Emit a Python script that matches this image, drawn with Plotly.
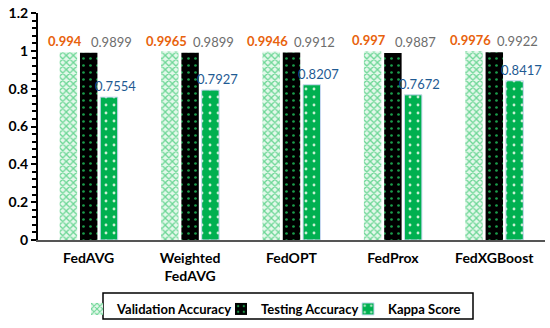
import plotly.graph_objects as go

categories = ["FedAVG", "Weighted<br>FedAVG", "FedOPT", "FedProx", "FedXGBoost"]
validation = [0.994, 0.9965, 0.9946, 0.997, 0.9976]
testing = [0.9899, 0.9899, 0.9912, 0.9887, 0.9922]
kappa = [0.7554, 0.7927, 0.8207, 0.7672, 0.8417]
y_ticks = [0, 0.2, 0.4, 0.6, 0.8, 1, 1.2]
y_tick_text = ["0", "0.2", "0.4", "0.6", "0.8", "1", "1.2"]

FONT = "Lato"
W, H = 550, 328
L, R, T, B = 38, 5, 13, 88
PW, PH = W - L - R, H - T - B


def px_x(px):
    return (px - L) / PW


def px_y(py):
    return (H - B - py) / PH


fig = go.Figure()
fig.add_trace(go.Bar(
    name="Validation Accuracy", x=categories, y=validation, legend="legend",
    marker=dict(color="white", line=dict(width=0),
                pattern=dict(shape="x", fgcolor="#6cd695", bgcolor="#e4f8eb",
                             size=5, solidity=0.45, fillmode="replace")),
))
fig.add_trace(go.Bar(
    name="Testing Accuracy", x=categories, y=testing, legend="legend2",
    marker=dict(color="black", line=dict(width=0),
                pattern=dict(shape=".", fgcolor="#1a9c4a", bgcolor="black",
                             size=7, solidity=0.12, fillmode="replace")),
))
fig.add_trace(go.Bar(
    name="Kappa Score", x=categories, y=kappa, legend="legend3",
    marker=dict(color="#00b050", line=dict(width=1, color="#c8d8f0"),
                pattern=dict(shape=".", fgcolor="#c8f0d4", bgcolor="#00b050",
                             size=8, solidity=0.1, fillmode="replace")),
))

annotations = []
label_specs = [
    (validation, "#e8620c", True),
    (testing, "#6d6d6d", False),
    (kappa, "#1f5b93", False),
]
shifts = [-3, 23, 6]
group_offsets = [-21, 0, 21]
for (vals, color, bold), sh, go_ in zip(label_specs, shifts, group_offsets):
    for c, v in zip(categories, vals):
        txt = "{:g}".format(v)
        if bold:
            txt = "<b>" + txt + "</b>"
        annotations.append(dict(
            x=c, y=v, xref="x", yref="y", text=txt, showarrow=False,
            xanchor="center", yanchor="bottom", xshift=go_ + sh, yshift=1,
            font=dict(family=FONT, size=13, color=color),
        ))

leg_common = dict(orientation="h", xanchor="left", yanchor="middle", y=px_y(309),
                  bgcolor="rgba(0,0,0,0)", borderwidth=0, itemwidth=30,
                  font=dict(family=FONT, size=13, color="black", weight="bold"))

fig.update_layout(
    width=W, height=H,
    margin=dict(l=L, r=R, t=T, b=B, autoexpand=False),
    paper_bgcolor="white", plot_bgcolor="white",
    barmode="group", bargap=0.4, bargroupgap=0.14,
    font=dict(family=FONT, size=13, color="black"),
    showlegend=True,
    legend=dict(x=px_x(119 - 42), **leg_common),
    legend2=dict(x=px_x(263 - 42), **leg_common),
    legend3=dict(x=px_x(390 - 42), **leg_common),
    annotations=annotations,
    shapes=[dict(type="rect", xref="paper", yref="paper",
                 x0=px_x(103), x1=px_x(473), y0=px_y(293), y1=px_y(319),
                 line=dict(color="black", width=1.5))],
)
fig.update_yaxes(
    range=[0, 1.2], tickvals=y_ticks, ticktext=y_tick_text,
    showgrid=False, zeroline=False,
    showline=True, linecolor="black", linewidth=2,
    ticks="outside", ticklen=5, tickwidth=2, tickcolor="black",
    tickfont=dict(family=FONT, size=14, color="black", weight="bold"),
    minor=dict(dtick=0.04, tick0=0, ticks="outside", ticklen=4, tickwidth=1.5, tickcolor="black"),
)
fig.update_xaxes(
    showgrid=False, showline=True, linecolor="#555", linewidth=1.5,
    ticks="", ticklabelstandoff=4,
    tickfont=dict(family=FONT, size=14, color="black", weight="bold"),
)

fig.write_html("out.html", post_script="document.body.style.margin='0';",
               config={"displayModeBar": False})
